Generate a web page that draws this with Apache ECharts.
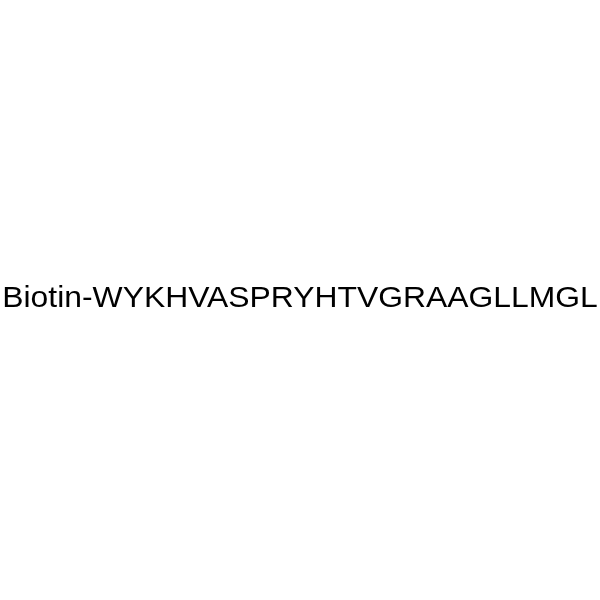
<!DOCTYPE html>
<html><head><meta charset="utf-8">
<script src="https://cdn.jsdelivr.net/npm/echarts@6/dist/echarts.min.js"></script>
<style>html,body{margin:0;padding:0;background:#fff}#c{width:600px;height:600px}</style>
</head><body><div id="c"></div>
<script>
const labels = ["Biotin-WYKHVASPRYHTVGRAAGLLMGL"];
const chart = echarts.init(document.getElementById('c'));
chart.setOption({
  backgroundColor: '#ffffff',
  graphic: labels.map((t) => ({
    type: 'text',
    x: 300,
    y: 299,
    scaleX: 1.062,
    style: { text: t, fontFamily: 'Liberation Sans, Arial, sans-serif', fontSize: 30, fill: '#000', align: 'center', verticalAlign: 'middle' }
  }))
});
</script></body></html>
